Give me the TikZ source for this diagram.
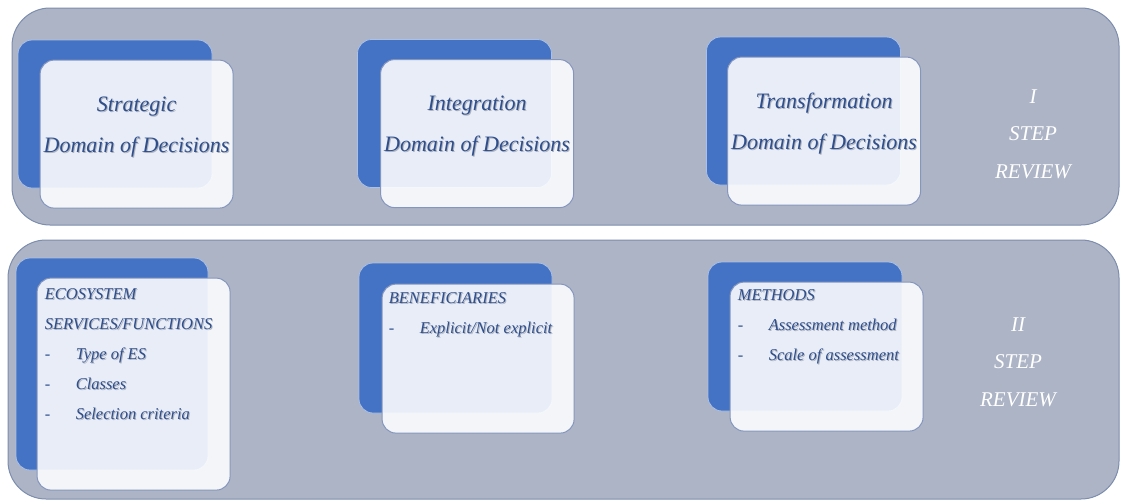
\documentclass[tikz,border=0pt]{standalone}
\usepackage{fontspec}
\setmainfont{Liberation Serif}
\usepackage{xcolor}
\usetikzlibrary{positioning}

\definecolor{bandgray}{HTML}{ACB4C6}
\definecolor{banddraw}{HTML}{7C8DAE}
\definecolor{backblue}{HTML}{4472C4}
\definecolor{textblue}{HTML}{2F4E8C}
\definecolor{textshade}{HTML}{AEB3BE}
\definecolor{framedraw}{HTML}{8596BE}

% blue text with a soft grey drop shadow
\newcommand{\shd}[1]{\leavevmode\rlap{\textcolor{textshade}{\raisebox{-1pt}{\kern1pt#1}}}#1}
\newcommand{\dashitem}[1]{\makebox[31pt][l]{-}\shd{#1}}

\begin{document}
\begin{tikzpicture}[
    x=1pt, y=-1pt,
    band/.style={draw=banddraw, line width=1pt, fill=bandgray, rounded corners=38pt, inner sep=0pt},
    backbox/.style={draw=backblue!45!white, line width=0.8pt, fill=backblue, rounded corners=14pt, minimum width=194pt, minimum height=148pt, inner sep=0pt},
    frontbox/.style={draw=framedraw, line width=1pt, fill=white, fill opacity=0.88, rounded corners=14pt, minimum width=193pt, minimum height=148pt, inner sep=0pt, anchor=north west},
    domaintext/.style={text=textblue, font=\fontsize{22}{41}\selectfont\itshape, align=center},
    itemtext/.style={text=textblue, font=\fontsize{16.5}{30}\selectfont\itshape, align=left, anchor=north west, inner sep=0pt},
    steplabel/.style={text=white, font=\fontsize{21}{37.5}\selectfont\itshape, align=center}
]
\useasboundingbox (0,0) rectangle (1121,501);

% Bands
\node[band, minimum width=1107pt, minimum height=217pt] (band1) at (565.5,116.5) {};
\node[band, minimum width=1111pt, minimum height=259pt] (band2) at (563.5,369.5) {};

% First step: domains of decisions
\node[backbox] (strategicback) at (115,114) {};
\node[frontbox] (strategic) at ([shift={(22,20)}]strategicback.north west) {};
\node[domaintext] (strategictext) at ([yshift=7pt]strategic.center) {\shd{Strategic}\\\shd{Domain of Decisions}};

\node[backbox] (integrationback) at (454.5,113.5) {};
\node[frontbox] (integration) at ([shift={(23,20)}]integrationback.north west) {};
\node[domaintext] (integrationtext) at ([yshift=7pt]integration.center) {\shd{Integration}\\\shd{Domain of Decisions}};

\node[backbox] (transformback) at (803.5,111) {};
\node[frontbox] (transform) at ([shift={(21,20)}]transformback.north west) {};
\node[domaintext] (transformtext) at ([yshift=7pt]transform.center) {\shd{Transformation}\\\shd{Domain of Decisions}};

\node[steplabel] (stepone) at (1033,134) {I\\STEP\\REVIEW};

% Second step: what is reviewed
\node[backbox, minimum width=192pt, minimum height=212pt] (servicesback) at (112,364) {};
\node[frontbox, minimum height=212pt] (services) at ([shift={(21,20)}]servicesback.north west) {};
\node[itemtext] (servicestext) at ([shift={(8,11)}]services.north west)
    {\shd{ECOSYSTEM}\\\shd{SERVICES/FUNCTIONS}\\\dashitem{Type of ES}\\\dashitem{Classes}\\\dashitem{Selection criteria}};

\node[backbox, minimum width=193pt, minimum height=150pt] (benefback) at (455.5,338) {};
\node[frontbox, minimum width=192pt, minimum height=149pt] (benef) at ([shift={(23,21)}]benefback.north west) {};
\node[itemtext] (beneftext) at ([shift={(7,9)}]benef.north west)
    {\shd{BENEFICIARIES}\\\dashitem{Explicit/Not explicit}};

\node[backbox, minimum height=149pt] (methodsback) at (805,336.5) {};
\node[frontbox, minimum height=149pt] (methods) at ([shift={(22,20)}]methodsback.north west) {};
\node[itemtext] (methodstext) at ([shift={(8,8)}]methods.north west)
    {\shd{METHODS}\\\dashitem{Assessment method}\\\dashitem{Scale of assessment}};

\node[steplabel] (steptwo) at (1018,362) {II\\STEP\\REVIEW};

\end{tikzpicture}
\end{document}
